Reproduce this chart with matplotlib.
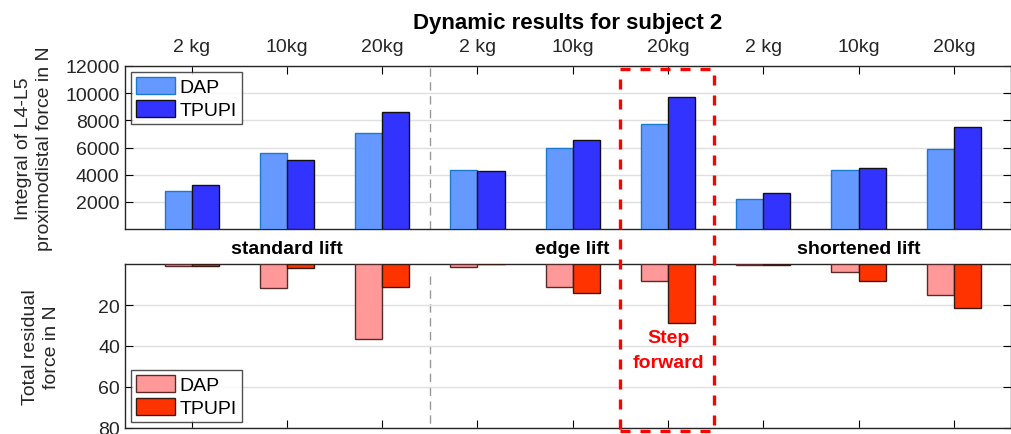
import numpy as np
import matplotlib.pyplot as plt
from matplotlib.patches import Rectangle

plt.rcParams['font.family'] = ['Liberation Sans', 'DejaVu Sans']

# data
weights = ['2 kg', '10kg', '20kg', '2 kg', '10kg', '20kg', '2 kg', '10kg', '20kg']
lifts = ['standard lift', 'edge lift', 'shortened lift']
force_dap = [2820, 5570, 7090, 4370, 5960, 7730, 2230, 4320, 5870]
force_tpupi = [3220, 5080, 8590, 4290, 6530, 9740, 2670, 4490, 7530]
resid_dap = [1.1, 11.9, 36.7, 1.6, 11.4, 8.3, 0.3, 3.9, 15.3]
resid_tpupi = [1.1, 1.8, 11.4, 0.2, 14.3, 28.8, 0.5, 8.1, 21.6]

x = np.arange(1, len(weights) + 1)
w = 0.285
fs = 14

fig = plt.figure(figsize=(10.12, 4.35), dpi=100)
ax1 = fig.add_axes([0.1235, 0.471, 0.8755, 0.375])
ax2 = fig.add_axes([0.1235, 0.0138, 0.8755, 0.377])

legend_kw = dict(fontsize=fs, handlelength=2.0, handleheight=1.0, borderaxespad=0.3,
                 fancybox=False, edgecolor='#262626', labelspacing=0.2,
                 handletextpad=0.25, borderpad=0.25)

# top: integral of force
ax1.bar(x - w / 2, force_dap, w, color='#6699ff', edgecolor='#1a7acc', linewidth=1, label='DAP', zorder=3)
ax1.bar(x + w / 2, force_tpupi, w, color='#3333ff', edgecolor='#111111', linewidth=1, label='TPUPI', zorder=3)
ax1.set_xlim(0.3, 9.6)
ax1.set_ylim(0, 12000)
ax1.set_yticks(np.arange(2000, 12001, 2000))
ax1.set_xticks(x)
ax1.set_xticklabels(weights, fontsize=fs, color='#262626')
ax1.xaxis.tick_top()
ax1.tick_params(axis='both', direction='in', length=6, top=True, bottom=False,
                left=True, right=True, labelsize=fs, labelcolor='#262626', pad=8)
ax1.tick_params(axis='y', pad=4)
ax1.grid(axis='y', color='#e0e0e0', linewidth=1, zorder=0)
ax1.axvline(3.5, color='#999999', linestyle=(0, (6, 4)), linewidth=1, zorder=1)
ax1.set_ylabel('Integral of L4-L5\nproximodistal force in N', fontsize=fs, color='#262626',
               linespacing=1.3)
ax1.yaxis.set_label_coords(-0.081, 0.5)
ax1.set_title('Dynamic results for subject 2', fontsize=16, fontweight='bold', pad=27)
leg1 = ax1.legend(loc='upper left', **legend_kw)
leg1.get_frame().set_linewidth(1)

# bottom: residual force (pointing down)
ax2.bar(x - w / 2, resid_dap, w, color='#ff9999', edgecolor='#5a2a2a', linewidth=1, label='DAP', zorder=3)
ax2.bar(x + w / 2, resid_tpupi, w, color='#ff3300', edgecolor='#3a1a10', linewidth=1, label='TPUPI', zorder=3)
ax2.set_xlim(0.3, 9.6)
ax2.set_ylim(80, 0)
ax2.set_yticks([20, 40, 60, 80])
ax2.set_xticks(x)
ax2.set_xticklabels([])
ax2.tick_params(axis='both', direction='in', length=6, top=False, bottom=True,
                left=True, right=True, labelsize=fs, labelcolor='#262626')
ax2.grid(axis='y', color='#e0e0e0', linewidth=1, zorder=0)
ax2.plot([3.5, 3.5], [6, 80], color='#999999', linestyle=(0, (6, 4)), linewidth=1, zorder=1)
ax2.set_ylabel('Total residual\nforce in N', fontsize=fs, color='#262626', linespacing=1.3)
ax2.yaxis.set_label_coords(-0.073, 0.5)
leg2 = ax2.legend(loc='lower left', **legend_kw)
leg2.get_frame().set_linewidth(1)

for ax in (ax1, ax2):
    for s in ax.spines.values():
        s.set_color('#262626')
        s.set_linewidth(1)

# group labels between the panels
for i, name in enumerate(lifts):
    ax2.text(x[3 * i + 1], -3.5, name, ha='center', va='bottom', fontsize=fs,
             fontweight='bold', clip_on=False)

ax2.text(6, 41.8, 'Step\nforward', ha='center', va='center', color='#ff0000',
         fontsize=fs, fontweight='bold', linespacing=1.6)

# red dashed box spanning both panels around edge lift 20kg
inv = fig.transFigure.inverted()
x0, y_top = inv.transform(ax1.transData.transform((5.5, 11770)))
x1, y_bot = inv.transform(ax2.transData.transform((6.48, 81.3)))
fig.patches.append(Rectangle((x0, y_bot), x1 - x0, y_top - y_bot, transform=fig.transFigure,
                             fill=False, edgecolor='#ff0000', linewidth=2.4,
                             linestyle=(0, (3, 3)), zorder=10))

fig.savefig('out.png', dpi=100)
